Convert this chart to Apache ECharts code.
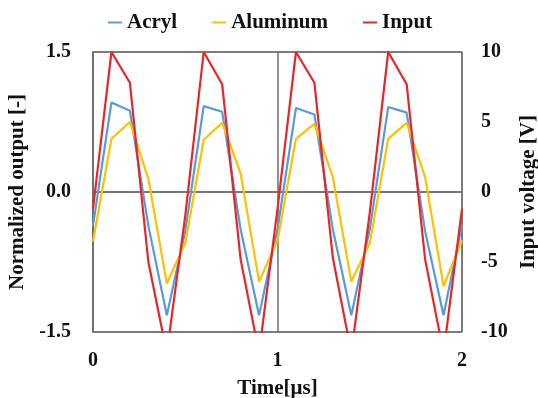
<!DOCTYPE html>
<html>
<head>
<meta charset="utf-8">
<script src="https://cdn.jsdelivr.net/npm/echarts@6/dist/echarts.min.js"></script>
<style>html,body{margin:0;padding:0;background:#fff}#c{width:538px;height:398px}</style>
</head>
<body>
<div id="c"></div>
<script>
var times = [0,0.1,0.2,0.3,0.4,0.5,0.6,0.7,0.8,0.9,1.0,1.1,1.2,1.3,1.4,1.5,1.6,1.7,1.8,1.9,2.0];
var acryl = [-0.36,0.96,0.87,-0.36,-1.32,-0.42,0.92,0.86,-0.40,-1.32,-0.40,0.90,0.83,-0.40,-1.32,-0.40,0.91,0.85,-0.42,-1.32,-0.35];
var aluminum = [-0.53,0.57,0.75,0.14,-0.98,-0.55,0.56,0.74,0.20,-0.96,-0.52,0.57,0.73,0.16,-0.96,-0.55,0.57,0.74,0.16,-1.01,-0.52];
var input = [-1.2,10.0,7.8,-5.0,-11.5,-1.7,10.0,7.7,-4.8,-11.5,-1.2,10.0,7.8,-4.7,-11.5,-1.5,10.0,7.7,-4.8,-11.5,-1.2];
var seriesNames = ['Acryl','Aluminum','Input'];
var xTicks = [0,1,2];

function pairs(vals){ return times.map(function(t,i){ return [t, vals[i]]; }); }

var font = '"Liberation Serif","Times New Roman",serif';
var chart = echarts.init(document.getElementById('c'), null, {renderer:'canvas'});
chart.setOption({
  animation:false,
  grid:{left:93, right:76, top:52, bottom:66, show:true, borderColor:'#8c8c8c', borderWidth:1.5,
        containLabel:false, outerBoundsMode:'none'},
  legend:{
    left:103, top:7, itemGap:35, itemWidth:14, itemHeight:2, icon:'rect',
    textStyle:{fontFamily:font, fontWeight:'bold', fontSize:21, color:'#111'},
    data:seriesNames
  },
  xAxis:{
    type:'value', min:0, max:2, interval:1,
    name:'Time[μs]', nameLocation:'middle', nameGap:46,
    nameTextStyle:{fontFamily:font, fontWeight:'bold', fontSize:21, color:'#111'},
    axisLine:{show:true, lineStyle:{color:'#6e6e6e', width:1.5}},
    axisTick:{show:false},
    axisLabel:{fontFamily:font, fontWeight:'bold', fontSize:20, color:'#111', margin:19,
      formatter:function(v){ return xTicks.indexOf(v)>=0 ? String(v) : ''; }},
    splitLine:{show:true, lineStyle:{color:'#6e6e6e', width:1.5}}
  },
  yAxis:[{
    type:'value', min:-1.5, max:1.5, interval:1.5, position:'left',
    name:'Normalized output [-]', nameLocation:'middle', nameGap:58, nameRotate:90,
    nameTextStyle:{fontFamily:font, fontWeight:'bold', fontSize:21, color:'#111'},
    axisLine:{show:true, lineStyle:{color:'#6e6e6e', width:1.5}},
    axisTick:{show:false},
    axisLabel:{fontFamily:font, fontWeight:'bold', fontSize:20, color:'#111', margin:22,
      formatter:function(v){ return v.toFixed(1); }},
    splitLine:{show:true, lineStyle:{color:'#6e6e6e', width:1.5}}
  },{
    type:'value', min:-10, max:10, interval:5, position:'right',
    name:'Input voltage [V]', nameLocation:'middle', nameGap:56, nameRotate:90,
    nameTextStyle:{fontFamily:font, fontWeight:'bold', fontSize:21, color:'#111'},
    axisLine:{show:false},
    axisTick:{show:false},
    axisLabel:{fontFamily:font, fontWeight:'bold', fontSize:20, color:'#111', margin:19},
    splitLine:{show:false}
  }],
  series:[
    {name:'Acryl', type:'line', yAxisIndex:0, data:pairs(acryl), showSymbol:false, symbol:'none',
     lineStyle:{color:'#5B9BD5', width:2.2}, itemStyle:{color:'#5B9BD5'}, clip:true},
    {name:'Aluminum', type:'line', yAxisIndex:0, data:pairs(aluminum), showSymbol:false, symbol:'none',
     lineStyle:{color:'#FFC000', width:2.2}, itemStyle:{color:'#FFC000'}, clip:true},
    {name:'Input', type:'line', yAxisIndex:1, data:pairs(input), showSymbol:false, symbol:'none',
     lineStyle:{color:'#E8262A', width:2.2}, itemStyle:{color:'#E8262A'}, clip:true}
  ]
});
</script>
</body>
</html>
